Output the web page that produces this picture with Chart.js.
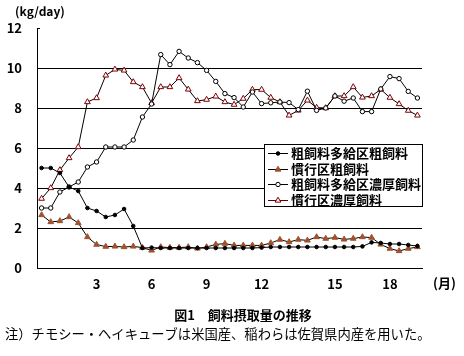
<!DOCTYPE html>
<html>
<head>
<meta charset="utf-8">
<script src="https://cdn.jsdelivr.net/npm/chart.js@4/dist/chart.umd.min.js"></script>
<style>
  html, body { margin: 0; padding: 0; background: #fff; }
  #wrap { width: 464px; height: 356px; position: relative; }
</style>
</head>
<body>
<div id="wrap"><canvas id="c" width="464" height="356"></canvas></div>
<script>
// x-axis tick labels (42 half-monthly samples; month labels at selected samples)
const tickLabels = ['', '', '', '', '', '', '3', '', '', '', '', '', '6', '', '', '', '', '', '9', '', '', '', '', '', '12', '', '', '', '', '', '', '', '15', '', '', '', '', '', '18', '', '', ''];

const seriesNames = ['粗飼料多給区粗飼料', '慣行区粗飼料', '粗飼料多給区濃厚飼料', '慣行区濃厚飼料'];

// 粗飼料多給区 粗飼料
const roughHighRough = [5.0, 5.0, 4.75, 4.05, 3.85, 3.0, 2.85, 2.55, 2.65, 2.95, 2.1, 1.0, 1.02, 1.0, 1.0, 1.0, 1.0, 1.0, 1.0, 1.0, 1.0, 1.0, 1.0, 1.0, 1.02, 1.05, 1.05, 1.05, 1.05, 1.05, 1.05, 1.05, 1.05, 1.05, 1.05, 1.08, 1.28, 1.25, 1.2, 1.2, 1.15, 1.1];
// 慣行区 粗飼料
const conventionalRough = [2.65, 2.3, 2.35, 2.55, 2.25, 1.55, 1.17, 1.07, 1.08, 1.05, 1.08, 1.02, 0.88, 1.05, 1.02, 1.02, 1.05, 0.98, 1.05, 1.18, 1.22, 1.13, 1.13, 1.13, 1.13, 1.25, 1.42, 1.3, 1.42, 1.38, 1.55, 1.47, 1.52, 1.43, 1.47, 1.55, 1.52, 1.18, 0.97, 0.85, 0.97, 1.05];
// 粗飼料多給区 濃厚飼料
const roughHighConc = [3.0, 3.0, 3.8, 4.05, 4.3, 5.05, 5.3, 6.05, 6.05, 6.05, 6.4, 7.55, 8.2, 10.67, 10.17, 10.83, 10.5, 10.27, 9.88, 9.33, 8.72, 8.52, 8.05, 8.8, 8.22, 8.26, 8.3, 8.27, 7.92, 8.84, 7.88, 8.0, 8.6, 8.34, 8.5, 7.82, 7.82, 8.95, 9.57, 9.47, 8.83, 8.5];
// 慣行区 濃厚飼料
const conventionalConc = [3.47, 4.0, 4.9, 5.5, 6.05, 8.3, 8.5, 9.63, 9.93, 9.88, 9.3, 9.05, 8.25, 9.05, 9.05, 9.5, 8.93, 8.35, 8.42, 8.58, 8.3, 8.17, 8.47, 8.92, 8.92, 8.52, 8.3, 7.63, 7.88, 8.38, 8.02, 8.0, 8.6, 8.6, 9.05, 8.53, 8.6, 8.93, 8.52, 8.2, 7.87, 7.63];

const yTicks = [0, 2, 4, 6, 8, 10, 12];

const JP = "'Noto Sans CJK JP', 'Noto Sans', sans-serif";

const textPlugin = {
  id: 'texts',
  afterDatasetsDraw(chart) {
    const ctx = chart.ctx;
    const area = chart.chartArea;
    ctx.save();
    ctx.fillStyle = '#000';
    ctx.textBaseline = 'middle';

    // small tick at top of y axis
    ctx.strokeStyle = '#000';
    ctx.lineWidth = 1;
    ctx.beginPath();
    ctx.moveTo(area.left, Math.round(area.top) + 0.5);
    ctx.lineTo(area.left + 3, Math.round(area.top) + 0.5);
    ctx.stroke();

    // unit label
    ctx.font = 'bold 12px ' + JP;
    ctx.textAlign = 'left';
    ctx.fillText('(kg/day)', 15, 11);

    // month unit
    ctx.font = 'bold 13px ' + JP;
    ctx.fillText('(月)', area.right + 11, 283);

    // figure title
    ctx.textAlign = 'center';
    ctx.font = 'bold 13px ' + JP;
    ctx.fillText('図1　飼料摂取量の推移', 243, 315);

    // note
    ctx.textAlign = 'left';
    ctx.font = '13.3px ' + JP;
    ctx.fillText('注）チモシー・ヘイキューブは米国産、稲わらは佐賀県内産を用いた。', 5, 334);

    // legend
    const lx = 264.5, ly = 144.5, lw = 158, lh = 62;
    ctx.fillStyle = '#fff';
    ctx.fillRect(lx, ly, lw, lh);
    ctx.strokeStyle = '#000';
    ctx.lineWidth = 1;
    ctx.strokeRect(lx, ly, lw, lh);
    chart.data.datasets.forEach((ds, i) => {
      const y = Math.round(153 + i * 15.5) + 0.5;
      ctx.strokeStyle = ds.legendLineColor || ds.borderColor;
      ctx.lineWidth = 1;
      ctx.beginPath();
      ctx.moveTo(268, y);
      ctx.lineTo(288, y);
      ctx.stroke();
      ctx.fillStyle = ds.pointBackgroundColor;
      ctx.strokeStyle = ds.pointBorderColor;
      Chart.helpers.drawPoint(ctx, {
        pointStyle: ds.pointStyle,
        radius: ds.pointRadius,
        borderWidth: ds.pointBorderWidth,
        rotation: 0
      }, 278, y);
      ctx.fillStyle = '#000';
      ctx.font = 'bold 13px ' + JP;
      ctx.textAlign = 'left';
      ctx.textBaseline = 'middle';
      ctx.fillText(ds.label, 291, y);
    });
    ctx.restore();
  }
};

new Chart(document.getElementById('c'), {
  type: 'line',
  data: {
    labels: tickLabels,
    datasets: [
      {
        label: seriesNames[0], data: roughHighRough,
        borderColor: '#000', borderWidth: 1,
        pointStyle: 'circle', pointRadius: 1.8, pointBorderWidth: 1,
        pointBackgroundColor: '#000', pointBorderColor: '#000'
      },
      {
        label: seriesNames[1], data: conventionalRough,
        borderColor: '#000', borderWidth: 1,
        pointStyle: 'triangle', pointRadius: 3.3, pointBorderWidth: 1,
        pointBackgroundColor: '#A0522D', pointBorderColor: '#A0522D'
      },
      {
        label: seriesNames[2], data: roughHighConc,
        borderColor: '#000', borderWidth: 1,
        pointStyle: 'circle', pointRadius: 2.2, pointBorderWidth: 1,
        pointBackgroundColor: '#fff', pointBorderColor: '#000'
      },
      {
        label: seriesNames[3], data: conventionalConc,
        borderColor: '#000', borderWidth: 1, legendLineColor: '#600000',
        pointStyle: 'triangle', pointRadius: 3.3, pointBorderWidth: 1,
        pointBackgroundColor: '#fff', pointBorderColor: '#800000'
      }
    ]
  },
  options: {
    responsive: false,
    animation: false,
    devicePixelRatio: 1,
    layout: { padding: { left: 0, top: 28, right: 42, bottom: 58 } },
    elements: { line: { tension: 0 } },
    plugins: {
      legend: { display: false },
      title: { display: false },
      tooltip: { enabled: false }
    },
    scales: {
      x: {
        type: 'category',
        offset: true,
        grid: { display: false, drawTicks: false },
        border: { display: true, color: '#000', width: 1 },
        ticks: {
          autoSkip: false, maxRotation: 0, minRotation: 0, padding: 8,
          color: '#000', font: { family: JP, size: 13, weight: 'bold' }
        },
        afterFit(scale) { scale.height = 30; }
      },
      y: {
        min: 0, max: 12,
        afterBuildTicks(scale) { scale.ticks = yTicks.map(v => ({ value: v })); },
        grid: {
          drawTicks: false,
          color: (c) => (c.tick && (c.tick.value === 12 || c.tick.value === 0)) ? 'rgba(0,0,0,0)' : '#000',
          lineWidth: 1
        },
        border: { display: true, color: '#000', width: 1 },
        ticks: {
          padding: 15, color: '#000',
          font: { family: JP, size: 13, weight: 'bold' }
        },
        afterFit(scale) { scale.width = 37; }
      }
    }
  },
  plugins: [textPlugin]
});
</script>
</body>
</html>
